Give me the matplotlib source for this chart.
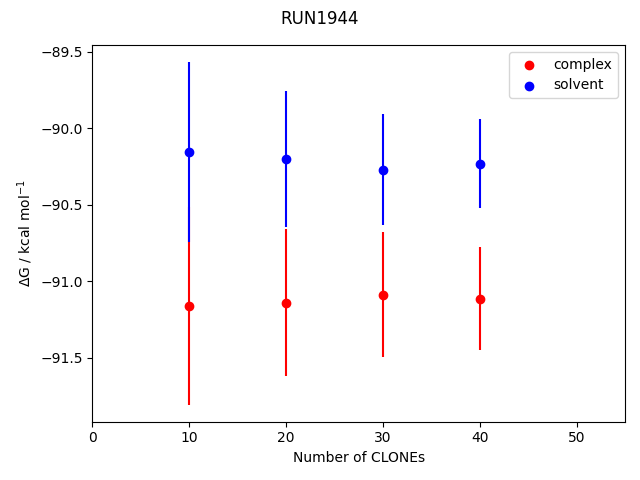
import matplotlib
matplotlib.use("Agg")
import matplotlib.pyplot as plt

clones = [10, 20, 30, 40]
complex_vals = [-91.162, -91.140, -91.088, -91.114]
complex_err = [0.645, 0.479, 0.407, 0.337]
solvent_vals = [-90.156, -90.199, -90.270, -90.231]
solvent_err = [0.588, 0.444, 0.366, 0.288]

fig, ax = plt.subplots(figsize=(6.4, 4.8), dpi=100)
ax.errorbar(clones, complex_vals, yerr=complex_err, fmt='none', ecolor='red')
ax.scatter(clones, complex_vals, color='red', label='complex')
ax.errorbar(clones, solvent_vals, yerr=solvent_err, fmt='none', ecolor='blue')
ax.scatter(clones, solvent_vals, color='blue', label='solvent')
ax.set_xlim(0, 55)
ax.set_xlabel('Number of CLONEs')
ax.set_ylabel(r'$\Delta$G / kcal mol$^{-1}$')
ax.legend(loc='upper right')
fig.suptitle('RUN1944')
fig.tight_layout()
fig.subplots_adjust(top=1 - 45 / 480)
fig.savefig('out.png')
